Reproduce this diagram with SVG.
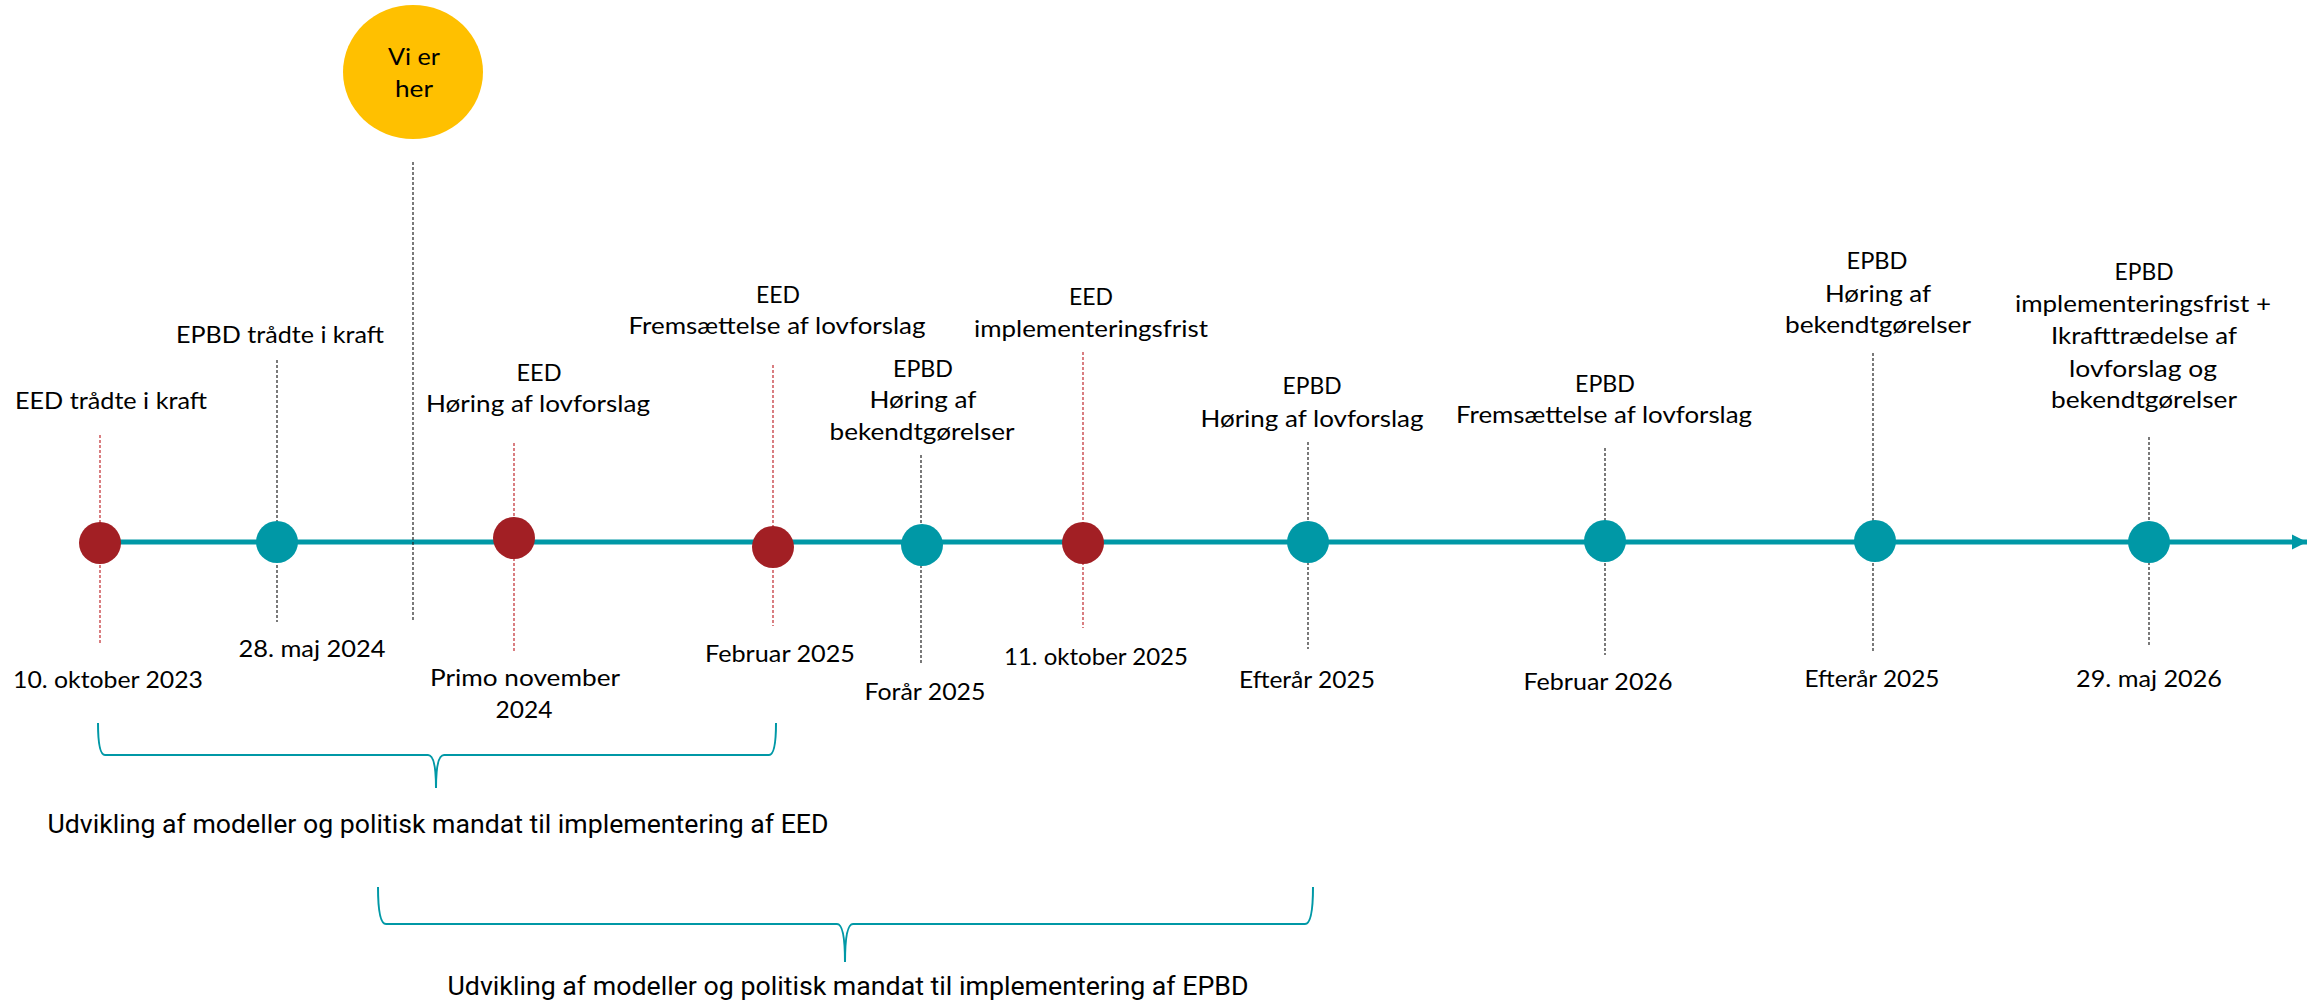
<svg xmlns="http://www.w3.org/2000/svg" width="2321" height="1003" viewBox="0 0 2321 1003">
<style>
.t{font-family:Lato,"Open Sans","Liberation Sans",sans-serif;font-size:24px;font-weight:400;fill:#000;text-anchor:middle}
.b{font-family:Roboto,"Liberation Sans",sans-serif;font-size:26px;fill:#000;text-anchor:middle}
.dr{stroke:#C0282D;stroke-width:1.2;stroke-dasharray:3 2;fill:none}
.dk{stroke:#222;stroke-width:1.2;stroke-dasharray:3 2;fill:none}
.red{fill:#A21F24}
.teal{fill:#0098A6}
.brace{fill:none;stroke:#0098A6;stroke-width:2}
</style>
<defs>
<marker id="arr" markerWidth="16" markerHeight="16" refX="15" refY="8" orient="auto" markerUnits="userSpaceOnUse">
<path d="M0,0.5 L15,8 L0,15.5 Z" fill="#0098A6"/>
</marker>
</defs>
<rect width="2321" height="1003" fill="#fff"/>
<g id="connectors">
<line x1="100" y1="542" x2="2307" y2="542" stroke="#0098A6" stroke-width="5" marker-end="url(#arr)"/>
<line class="dr" x1="100" y1="435" x2="100" y2="644"/>
<line class="dk" x1="277" y1="360" x2="277" y2="622"/>
<line class="dk" x1="413" y1="162" x2="413" y2="620"/>
<line class="dr" x1="514" y1="443" x2="514" y2="652"/>
<line class="dr" x1="773" y1="365" x2="773" y2="626"/>
<line class="dk" x1="921" y1="455" x2="921" y2="663"/>
<line class="dr" x1="1083" y1="352" x2="1083" y2="628"/>
<line class="dk" x1="1308" y1="442" x2="1308" y2="649"/>
<line class="dk" x1="1605" y1="448" x2="1605" y2="655"/>
<line class="dk" x1="1873" y1="353" x2="1873" y2="653"/>
<line class="dk" x1="2149" y1="437" x2="2149" y2="645"/>
<path class="brace" d="M98,723 Q98,755 105,755 L428,755 Q436,755 436,788 Q436,755 444,755 L769,755 Q776,755 776,723"/>
<path class="brace" d="M378,887 Q378,924 386,924 L837,924 Q845,924 845,962 Q845,924 853,924 L1305,924 Q1313,924 1313,887"/>
</g>
<g id="vi-er-her">
<ellipse cx="413" cy="72" rx="70" ry="67" fill="#FFC000"/>
<text class="t" x="414" y="65" font-size="26" textLength="52" lengthAdjust="spacingAndGlyphs">Vi er</text>
<text class="t" x="414" y="97" font-size="26" textLength="38" lengthAdjust="spacingAndGlyphs">her</text>
</g>
<g id="n1">
<circle class="red" cx="100" cy="543" r="21"/>
<text class="t" x="111" y="409" textLength="192" lengthAdjust="spacingAndGlyphs">EED trådte i kraft</text>
<text class="t" x="108" y="688" textLength="190" lengthAdjust="spacingAndGlyphs">10. oktober 2023</text>
</g>
<g id="n2">
<circle class="teal" cx="277" cy="542" r="21"/>
<text class="t" x="280" y="343" textLength="208" lengthAdjust="spacingAndGlyphs">EPBD trådte i kraft</text>
<text class="t" x="312" y="657" textLength="147" lengthAdjust="spacingAndGlyphs">28. maj 2024</text>
</g>
<g id="n3">
<circle class="red" cx="514" cy="538" r="21"/>
<text class="t" x="539" y="381" textLength="45" lengthAdjust="spacingAndGlyphs">EED</text>
<text class="t" x="538" y="412" textLength="224" lengthAdjust="spacingAndGlyphs">Høring af lovforslag</text>
<text class="t" x="525" y="686" textLength="190" lengthAdjust="spacingAndGlyphs">Primo november</text>
<text class="t" x="524" y="718" textLength="57" lengthAdjust="spacingAndGlyphs">2024</text>
</g>
<g id="n4">
<circle class="red" cx="773" cy="547" r="21"/>
<text class="t" x="778" y="303" textLength="44" lengthAdjust="spacingAndGlyphs">EED</text>
<text class="t" x="777" y="334" textLength="297" lengthAdjust="spacingAndGlyphs">Fremsættelse af lovforslag</text>
<text class="t" x="780" y="662" textLength="150" lengthAdjust="spacingAndGlyphs">Februar 2025</text>
</g>
<g id="n5">
<circle class="teal" cx="922" cy="545" r="21"/>
<text class="t" x="923" y="377" textLength="60" lengthAdjust="spacingAndGlyphs">EPBD</text>
<text class="t" x="923" y="408" textLength="107" lengthAdjust="spacingAndGlyphs">Høring af</text>
<text class="t" x="922" y="440" textLength="185" lengthAdjust="spacingAndGlyphs">bekendtgørelser</text>
<text class="t" x="925" y="700" textLength="121" lengthAdjust="spacingAndGlyphs">Forår 2025</text>
</g>
<g id="n6">
<circle class="red" cx="1083" cy="543" r="21"/>
<text class="t" x="1091" y="305" textLength="44" lengthAdjust="spacingAndGlyphs">EED</text>
<text class="t" x="1091" y="337" textLength="234" lengthAdjust="spacingAndGlyphs">implementeringsfrist</text>
<text class="t" x="1096" y="665" textLength="184" lengthAdjust="spacingAndGlyphs">11. oktober 2025</text>
</g>
<g id="n7">
<circle class="teal" cx="1308" cy="542" r="21"/>
<text class="t" x="1312" y="394" textLength="59" lengthAdjust="spacingAndGlyphs">EPBD</text>
<text class="t" x="1312" y="427" textLength="223" lengthAdjust="spacingAndGlyphs">Høring af lovforslag</text>
<text class="t" x="1307" y="688" textLength="136" lengthAdjust="spacingAndGlyphs">Efterår 2025</text>
</g>
<g id="n8">
<circle class="teal" cx="1605" cy="541" r="21"/>
<text class="t" x="1605" y="392" textLength="60" lengthAdjust="spacingAndGlyphs">EPBD</text>
<text class="t" x="1604" y="423" textLength="296" lengthAdjust="spacingAndGlyphs">Fremsættelse af lovforslag</text>
<text class="t" x="1598" y="690" textLength="149" lengthAdjust="spacingAndGlyphs">Februar 2026</text>
</g>
<g id="n9">
<circle class="teal" cx="1875" cy="541" r="21"/>
<text class="t" x="1877" y="269" textLength="61" lengthAdjust="spacingAndGlyphs">EPBD</text>
<text class="t" x="1878" y="302" textLength="106" lengthAdjust="spacingAndGlyphs">Høring af</text>
<text class="t" x="1878" y="333" textLength="186" lengthAdjust="spacingAndGlyphs">bekendtgørelser</text>
<text class="t" x="1872" y="687" textLength="135" lengthAdjust="spacingAndGlyphs">Efterår 2025</text>
</g>
<g id="n10">
<circle class="teal" cx="2149" cy="542" r="21"/>
<text class="t" x="2144" y="280" textLength="59" lengthAdjust="spacingAndGlyphs">EPBD</text>
<text class="t" x="2143" y="312" textLength="256" lengthAdjust="spacingAndGlyphs">implementeringsfrist +</text>
<text class="t" x="2144" y="344" textLength="186" lengthAdjust="spacingAndGlyphs">Ikrafttrædelse af</text>
<text class="t" x="2143" y="377" textLength="148" lengthAdjust="spacingAndGlyphs">lovforslag og</text>
<text class="t" x="2144" y="408" textLength="186" lengthAdjust="spacingAndGlyphs">bekendtgørelser</text>
<text class="t" x="2149" y="687" textLength="146" lengthAdjust="spacingAndGlyphs">29. maj 2026</text>
</g>
<g id="eed-span">
<text class="b" x="438" y="833" textLength="781" lengthAdjust="spacingAndGlyphs">Udvikling af modeller og politisk mandat til implementering af EED</text>
</g>
<g id="epbd-span">
<text class="b" x="848" y="995" textLength="801" lengthAdjust="spacingAndGlyphs">Udvikling af modeller og politisk mandat til implementering af EPBD</text>
</g>
</svg>
